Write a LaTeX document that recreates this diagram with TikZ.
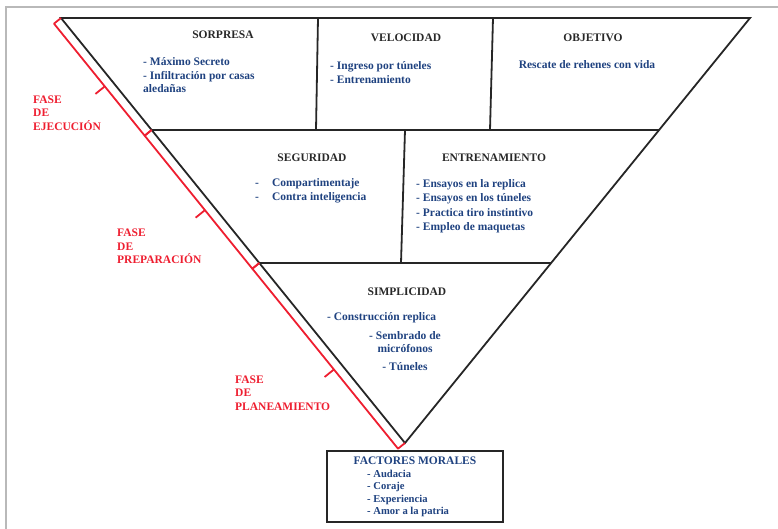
\documentclass[tikz,border=0pt]{standalone}
\usepackage{fontspec}
\setmainfont{Liberation Serif}
\usetikzlibrary{positioning, calc}

\definecolor{itemblue}{RGB}{31,66,128}
\definecolor{phasered}{RGB}{238,30,48}
\definecolor{headgray}{RGB}{40,40,40}

\begin{document}
\begin{tikzpicture}[
        x=1pt, y=-1pt,
        % --- ESTILOS ---
        % 1. Bordes del triángulo
        edge/.style={
                line width=1.8pt,
                black!85,
                line join=miter
            },
        % 2. Títulos de cada principio
        principle/.style={
                font=\fontsize{11.5}{13.5}\selectfont\bfseries,
                text=headgray,
                inner sep=0pt
            },
        % 3. Listas en azul
        itemlist/.style={
                font=\fontsize{11.5}{13.5}\selectfont\bfseries,
                text=itemblue,
                align=left,
                inner sep=0pt,
                anchor=west
            },
        % 4. Fases (rojo)
        phase/.style={
                font=\fontsize{11.5}{13.5}\selectfont\bfseries,
                text=phasered,
                align=left,
                inner sep=0pt,
                anchor=west
            },
        bracket/.style={
                phasered,
                line width=1.8pt,
                line join=round
            },
        % 5. Recuadro de factores morales
        moralbox/.style={
                draw=black!85,
                line width=2.2pt,
                minimum width=176pt,
                minimum height=71pt,
                inner sep=0pt
            }
    ]

    \useasboundingbox (0,0) rectangle (778,529);
    \draw[gray!55, line width=1.5pt] (6,529) -- (6,7) -- (778,7);

    % 1. Vértices y divisiones
    \coordinate (A) at (61,18);
    \coordinate (B) at (750,18);
    \coordinate (C) at (405,443);
    \coordinate (L1) at ($(A)!0.2635!(C)$);
    \coordinate (R1) at ($(B)!0.2635!(C)$);
    \coordinate (L2) at ($(A)!0.5765!(C)$);
    \coordinate (R2) at ($(B)!0.5765!(C)$);

    \draw[edge] (A) -- (B) -- (C) -- cycle;
    \draw[edge] (L1) -- (R1);
    \draw[edge] (L2) -- (R2);

    % separadores verticales
    \coordinate (v1t) at (318,18);  \coordinate (v1b) at (316,130);
    \coordinate (v2t) at (493,18);  \coordinate (v2b) at (490,130);
    \coordinate (v3t) at (405,130); \coordinate (v3b) at (401,263);
    \draw[edge] (v1t) -- (v1b);
    \draw[edge] (v2t) -- (v2b);
    \draw[edge] (v3t) -- (v3b);

    % 2. Fase de ejecución
    \node[principle] (sorpresa) at (223,35) {SORPRESA};
    \node[itemlist] (sorpresaitems) at (143,75.5) {- Máximo Secreto\\- Infiltración por casas\\aledañas};
    \node[principle] (velocidad) at (406,38) {VELOCIDAD};
    \node[itemlist] (velocidaditems) at (330,72.5) {- Ingreso por túneles\\- Entrenamiento};
    \node[principle] (objetivo) at (593,38) {OBJETIVO};
    \node[itemlist, anchor=center] (objetivoitems) at (587,65) {Rescate de rehenes con vida};

    % 3. Fase de preparación
    \node[principle] (seguridad) at (312,158) {SEGURIDAD};
    \node[itemlist] (seguridaditems) at (255,191) {-\hspace{13pt}Compartimentaje\\-\hspace{13pt}Contra inteligencia};
    \node[principle] (entrenamiento) at (494,158) {ENTRENAMIENTO};
    \node[itemlist, font=\fontsize{11.5}{14.5}\selectfont\bfseries] (entrenamientoitems) at (416,206)
    {- Ensayos en la replica\\- Ensayos en los túneles\\- Practica tiro instintivo\\- Empleo de maquetas};

    % 4. Fase de planeamiento
    \node[principle] (simplicidad) at (407,292) {SIMPLICIDAD};
    \node[itemlist] (construccion) at (327,318) {- Construcción replica};
    \node[itemlist, align=center, anchor=center] (sembrado) at (405,342) {- Sembrado de\\micrófonos};
    \node[itemlist, anchor=center] (tuneles) at (405,367) {- Túneles};

    % 5. Factores morales
    \node[moralbox] (moral) at (415,486.5) {};
    \node[principle, text=itemblue] (moraltitle) at (415,461) {FACTORES MORALES};
    \node[itemlist, font=\fontsize{10.6}{12.3}\selectfont\bfseries] (moralitems) at (367,493.5)
    {- Audacia\\- Coraje\\- Experiencia\\- Amor a la patria};

    % 6. Llaves rojas de las fases
    \foreach \s/\e in {A/L1, L1/L2, L2/C} {
            \draw[bracket] (\s) -- ($(\s)!9pt!-90:(\e)$) -- ($(\e)!9pt!90:(\s)$) -- (\e);
            \coordinate (m) at ($(\s)!0.56!(\e)$);
            \draw[bracket] ($(m)!9pt!-90:(\e)$) -- ($(m)!21pt!-90:(\e)$);
        }

    \node[phase] (ejecucion) at (33,113) {FASE\\DE\\EJECUCIÓN};
    \node[phase] (preparacion) at (117,246.7) {FASE\\DE\\PREPARACIÓN};
    \node[phase] (planeamiento) at (235,393) {FASE\\DE\\PLANEAMIENTO};

\end{tikzpicture}
\end{document}
